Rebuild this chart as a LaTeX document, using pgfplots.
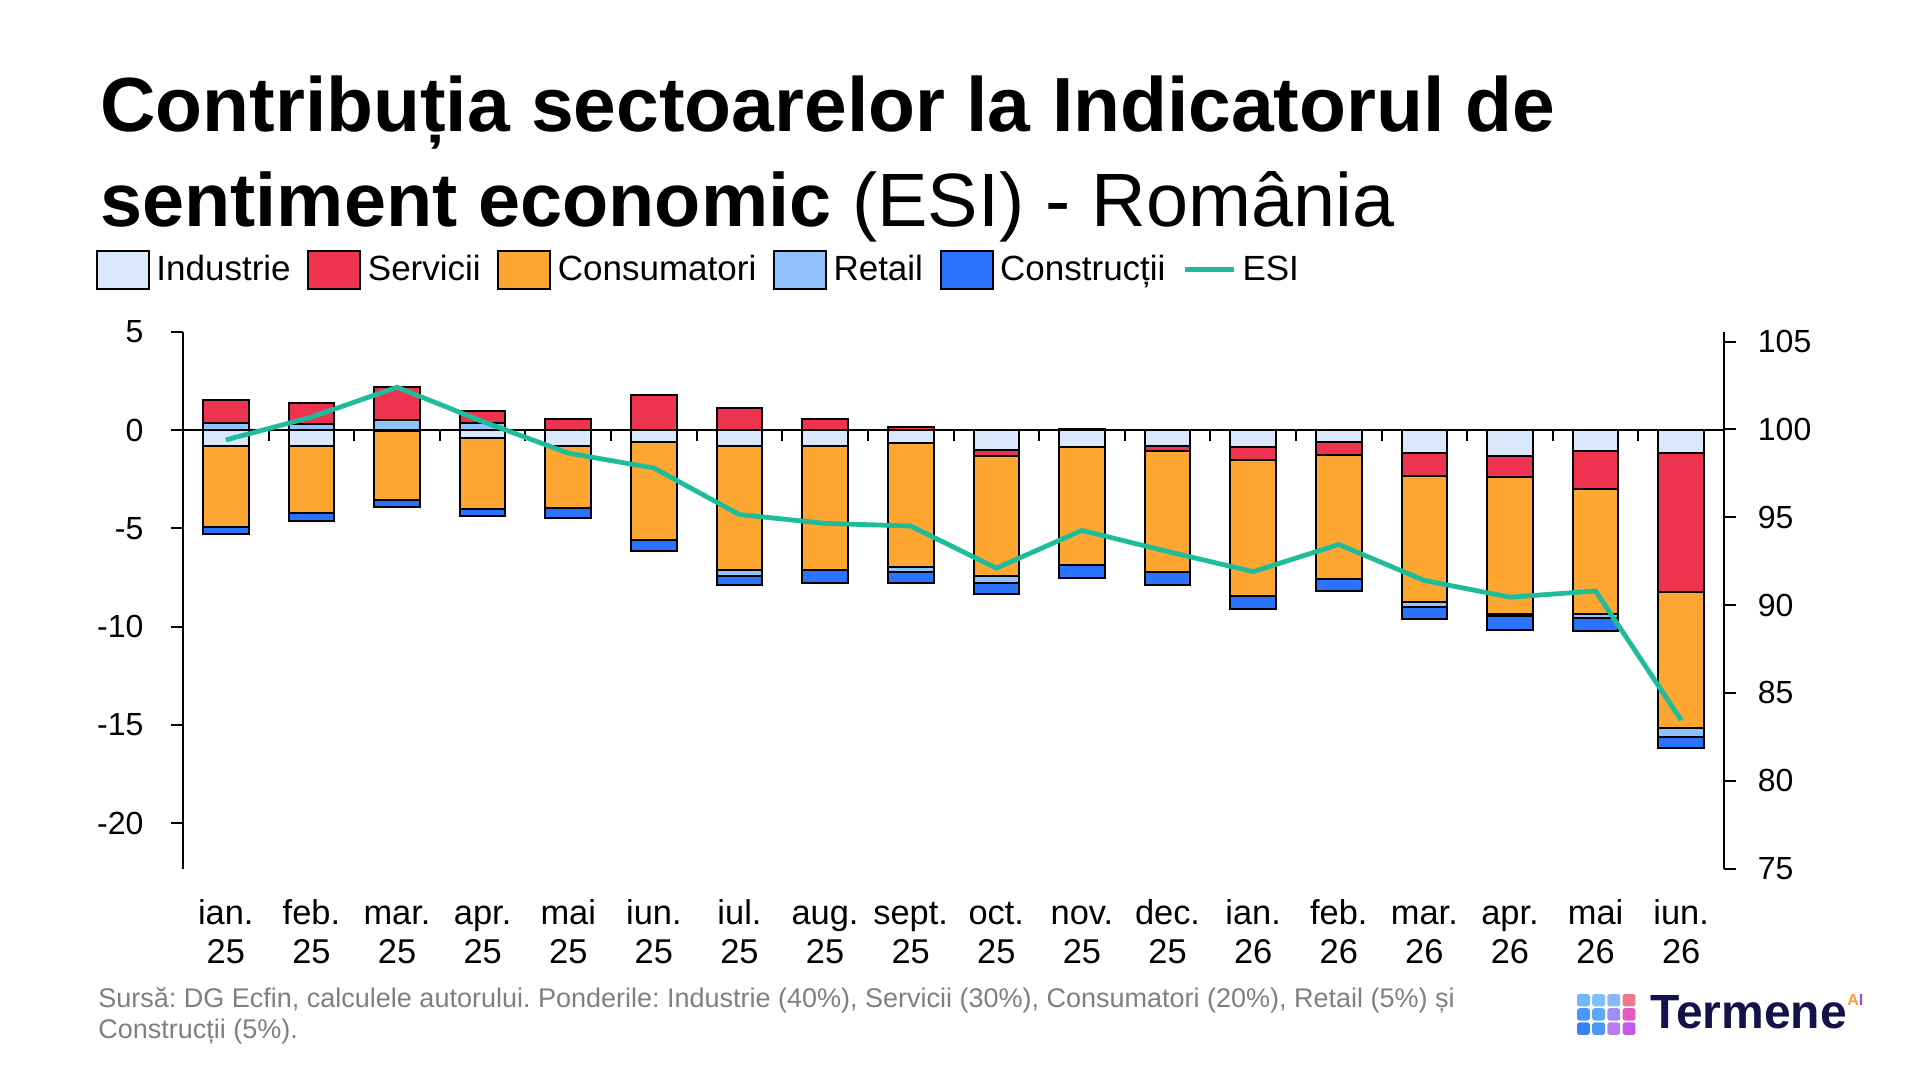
\documentclass[border=0pt]{standalone}
\usepackage{fontspec}
\setmainfont{Liberation Sans}
\usepackage{pgfplots}
\usepackage{pgfplotstable}
\pgfplotsset{compat=1.18}
\frenchspacing

\definecolor{cInd}{HTML}{DAE8FC}
\definecolor{cSer}{HTML}{EE3350}
\definecolor{cCon}{HTML}{FDA632}
\definecolor{cRet}{HTML}{90C3FC}
\definecolor{cCst}{HTML}{2B72FC}
\definecolor{cESI}{HTML}{1EBC9A}
\definecolor{cFoot}{HTML}{7F7F7F}
\definecolor{cNavy}{HTML}{14124A}

\pgfplotstableread{
x Ind SerP SerN Cons RetP RetN Cst ESI
0 -0.83 1.18 0 -4.08 0.37 0 -0.36 99.40
1 -0.80 1.06 0 -3.40 0.30 0 -0.43 100.70
2 -0.05 1.67 0 -3.49 0.51 0 -0.37 102.40
3 -0.41 0.58 0 -3.59 0.37 0 -0.37 100.45
4 -0.80 0.54 0 -3.15 0 0 -0.50 98.65
5 -0.63 1.80 0 -4.98 0 0 -0.53 97.80
6 -0.80 1.11 0 -6.34 0 -0.26 -0.49 95.15
7 -0.80 0.56 0 -6.34 0 0 -0.63 94.65
8 -0.68 0.14 0 -6.28 0 -0.25 -0.58 94.50
9 -1.04 0 -0.27 -6.09 0 -0.37 -0.56 92.10
10 -0.88 0.05 0 -5.96 0 0 -0.66 94.25
11 -0.83 0 -0.22 -6.16 0 0 -0.66 93.05
12 -0.85 0 -0.68 -6.89 0 0 -0.68 91.90
13 -0.63 0 -0.63 -6.29 0 0 -0.63 93.45
14 -1.19 0 -1.17 -6.38 0 -0.24 -0.63 91.40
15 -1.31 0 -1.10 -6.95 0 -0.09 -0.72 90.45
16 -1.09 0 -1.89 -6.38 0 -0.20 -0.64 90.80
17 -1.19 0 -7.07 -6.89 0 -0.48 -0.56 83.45
}\data

\pgfplotsset{
  base/.style={
    scale only axis, width=770.5pt, height=268.45pt,
    at={(91.5pt,-434.3pt)}, anchor=south west,
    xmin=-0.5, xmax=17.5,
  },
  mybar/.style={fill=#1, draw=black, line width=1pt,
    legend image code/.code={\draw[##1] (0pt,-9.5pt) rectangle (26pt,9.5pt);}},
  esileg/.style={legend image code/.code={\draw[##1] (0pt,0pt) -- (24.5pt,0pt);}},
}

\begin{document}
\begin{tikzpicture}
\useasboundingbox (0,0) rectangle (960pt,-540pt);

% title
\node[anchor=base west, inner sep=0pt, font=\fontsize{38.4}{44}\selectfont\bfseries] at (50pt,-65.85pt) {Contribuția sectoarelor la Indicatorul de};
\node[anchor=base west, inner sep=0pt, font=\fontsize{37.8}{44}\selectfont] at (50pt,-113.35pt) {\textbf{sentiment economic} (ESI) - România};

% positive stack
\begin{axis}[base, hide axis, ymin=-22.3, ymax=5, ybar stacked, bar width=22.8pt]
\addplot[mybar=cRet] table[x=x,y=RetP]{\data};
\addplot[mybar=cSer] table[x=x,y=SerP]{\data};
\end{axis}

% negative stack + left axis + legend
\begin{axis}[base, ymin=-22.3, ymax=5, ybar stacked, bar width=22.8pt,
  axis y line*=left, axis x line*=bottom,
  x axis line style={draw=none},
  y axis line style={line width=1pt},
  tick align=outside,
  major tick length=6pt,
  xtick={0,...,17},
  xticklabels={{\strut ian.\\25},{\strut feb.\\25},{\strut mar.\\25},{\strut apr.\\25},{\strut mai\\25},{\strut iun.\\25},{\strut iul.\\25},{\strut aug.\\25},{\strut sept.\\25},{\strut oct.\\25},{\strut nov.\\25},{\strut dec.\\25},{\strut ian.\\26},{\strut feb.\\26},{\strut mar.\\26},{\strut apr.\\26},{\strut mai\\26},{\strut iun.\\26}},
  xtick style={draw=none},
  xticklabel style={align=center, anchor=north, inner sep=0pt, yshift=-8.25pt, font=\fontsize{17.2}{19.5}\selectfont},
  ytick={-20,-15,-10,-5,0,5},
  yticklabels={-20,-15,-10,-5,0,5},
  ytick style={line width=1pt, black},
  yticklabel style={anchor=east, inner sep=0pt, xshift=-13.6pt, font=\fontsize{16}{18}\selectfont},
  legend columns=-1,
  legend style={draw=none, fill=none, inner sep=0pt,
    at={(axis description cs:-0.0568,1.1155)}, anchor=west,
    font=\fontsize{17.5}{20}\selectfont,
    nodes={inner sep=0pt},
    /tikz/every odd column/.style={column sep=3.3pt},
    /tikz/every even column/.style={column sep=8.3pt}},
]
\addplot[mybar=cInd] table[x=x,y=Ind]{\data};
\addlegendentry{Industrie}
\addplot[mybar=cSer] table[x=x,y=SerN]{\data};
\addlegendentry{Servicii}
\addplot[mybar=cCon] table[x=x,y=Cons]{\data};
\addlegendentry{Consumatori}
\addplot[mybar=cRet] table[x=x,y=RetN]{\data};
\addlegendentry{Retail}
\addplot[mybar=cCst] table[x=x,y=Cst]{\data};
\addlegendentry{Construcții}
\addlegendimage{cESI, line width=2.4pt, esileg}
\addlegendentry{ESI}
\draw[line width=1pt] (axis cs:-0.5,0) -- (axis cs:17.5,0);
\foreach \i in {0.5,1.5,...,16.5}{\edef\tmp{\noexpand\draw[line width=1pt] (axis cs:\i,0) -- ++(0pt,-5.5pt);}\tmp}
\end{axis}

% ESI right axis
\begin{axis}[base, ymin=75, ymax=105.56,
  axis y line*=right, axis x line=none,
  y axis line style={line width=1pt},
  tick align=outside, major tick length=5.75pt,
  ytick={75,80,...,105},
  yticklabels={75,80,85,90,95,100,105},
  ytick style={line width=1pt, black},
  yticklabel style={anchor=west, inner sep=0pt, xshift=11pt, font=\fontsize{16}{18}\selectfont},
]
\addplot[cESI, line width=2.4pt, mark=none] table[x=x,y=ESI]{\data};
\end{axis}

% footer
\node[anchor=base west, inner sep=0pt, font=\fontsize{13.5}{16}\selectfont, text=cFoot] at (49pt,-503.6pt) {Sursă: DG Ecfin, calculele autorului. Ponderile: Industrie (40\%), Servicii (30\%), Consumatori (20\%), Retail (5\%) și};
\node[anchor=base west, inner sep=0pt, font=\fontsize{13.5}{16}\selectfont, text=cFoot] at (49pt,-519pt) {Construcții (5\%).};

% logo
\definecolor{l00}{HTML}{6FB8FB}\definecolor{l01}{HTML}{79C3FB}\definecolor{l02}{HTML}{8AB6F4}\definecolor{l03}{HTML}{F0788C}
\definecolor{l10}{HTML}{4C96F8}\definecolor{l11}{HTML}{5EA8F8}\definecolor{l12}{HTML}{9C8FF0}\definecolor{l13}{HTML}{E05AC0}
\definecolor{l20}{HTML}{3B7FF5}\definecolor{l21}{HTML}{4D97F6}\definecolor{l22}{HTML}{B57DF0}\definecolor{l23}{HTML}{C25AE8}
\foreach \r in {0,1,2}{\foreach \c in {0,1,2,3}{
  \fill[l\r\c, rounded corners=1.2pt] ({788.5pt+\c*7.6pt},{-497pt-\r*7.1pt}) rectangle ++(6.4pt,-6.2pt);
}}
\node[anchor=base west, inner sep=0pt, font=\fontsize{24}{26}\selectfont\bfseries, text=cNavy] at (825pt,-514pt) {Termene};
\node[anchor=base west, inner sep=0pt, font=\fontsize{8}{9}\selectfont\bfseries] at (923.5pt,-502.5pt) {\textcolor[HTML]{F5A030}{A}\textcolor[HTML]{8A4DFF}{I}};
\end{tikzpicture}
\end{document}
